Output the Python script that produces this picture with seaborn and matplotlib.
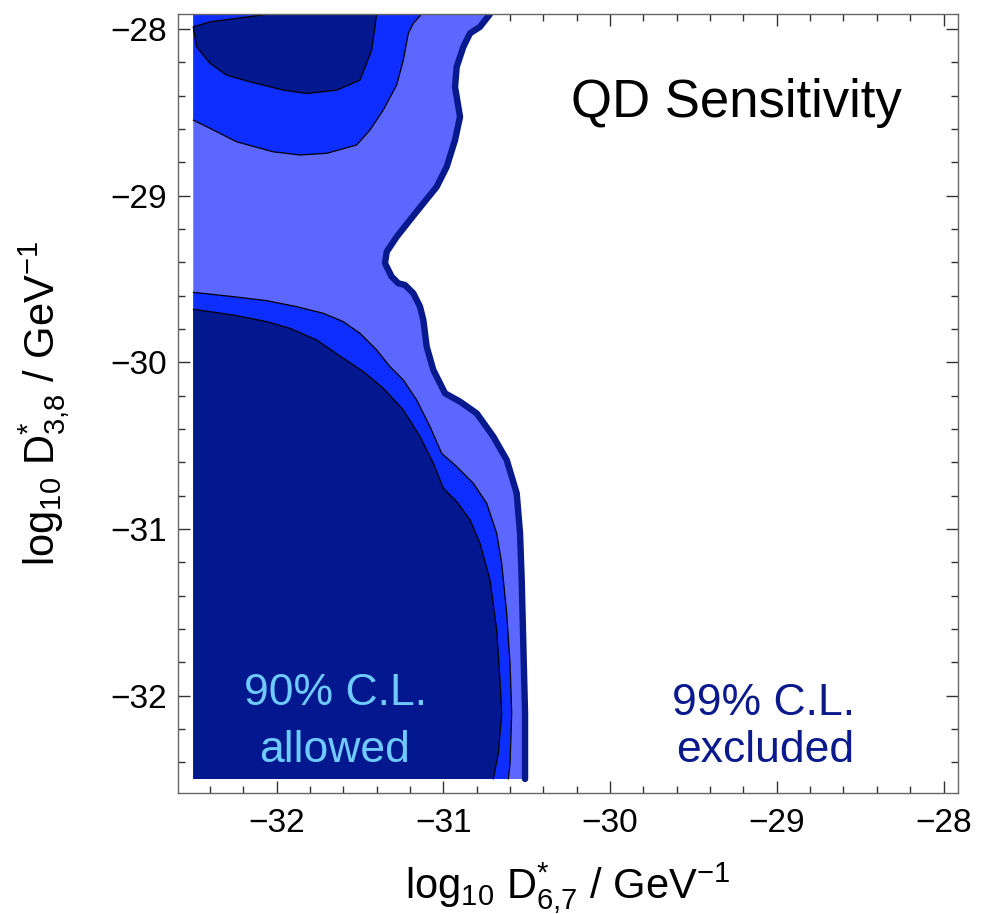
import matplotlib
matplotlib.use("Agg")
import matplotlib.pyplot as plt
from matplotlib.ticker import MultipleLocator
import seaborn as sns
import pandas as pd

# ---------------- data ----------------
X_MIN, Y_MIN, Y_TOP = -32.5, -32.5, -27.91

# outer 99% C.L. boundary (thick navy line), top -> bottom
b3_x = [-30.72, -30.78, -30.84, -30.88, -30.92, -30.93, -30.90, -30.93, -30.98, -31.04,
        -31.12, -31.20, -31.28, -31.34, -31.35, -31.31, -31.27, -31.23, -31.18, -31.14,
        -31.12, -31.10, -31.06, -30.99, -30.90, -30.80, -30.70, -30.62, -30.56, -30.54,
        -30.53, -30.52, -30.51, -30.51]
b3_y = [-27.91, -27.987, -28.026, -28.107, -28.227, -28.347, -28.527, -28.667, -28.827, -28.947,
        -29.046, -29.146, -29.247, -29.337, -29.406, -29.486, -29.526, -29.536, -29.586, -29.666,
        -29.746, -29.906, -30.046, -30.186, -30.236, -30.306, -30.446, -30.586, -30.786, -31.026,
        -31.306, -31.706, -32.106, -32.5]

# lower medium-blue contour, left edge -> bottom
b2_x = [-32.5, -32.26, -32.06, -31.88, -31.72, -31.60, -31.50, -31.40, -31.32, -31.24,
        -31.16, -31.08, -31.01, -30.92, -30.82, -30.74, -30.68, -30.65, -30.62, -30.60,
        -30.59, -30.60, -30.61]
b2_y = [-29.580, -29.606, -29.630, -29.666, -29.706, -29.756, -29.826, -29.926, -30.026, -30.106,
        -30.226, -30.386, -30.546, -30.626, -30.726, -30.846, -31.026, -31.206, -31.506, -31.806,
        -32.106, -32.406, -32.5]

# lower dark contour, left edge -> bottom
b1_x = [-32.5, -32.26, -32.06, -31.92, -31.76, -31.60, -31.48, -31.36, -31.24, -31.14,
        -31.06, -31.00, -30.92, -30.84, -30.78, -30.72, -30.68, -30.66, -30.65, -30.67, -30.70]
b1_y = [-29.682, -29.716, -29.756, -29.796, -29.866, -29.976, -30.056, -30.156, -30.286, -30.446,
        -30.606, -30.756, -30.836, -30.946, -31.086, -31.306, -31.606, -31.906, -32.106, -32.346, -32.5]

# upper medium-blue contour, left edge -> top edge
t2_x = [-32.5, -32.4, -32.24, -32.02, -31.86, -31.70, -31.52, -31.44, -31.36, -31.28,
        -31.24, -31.21, -31.18, -31.13]
t2_y = [-28.547, -28.596, -28.677, -28.737, -28.756, -28.746, -28.696, -28.606, -28.486, -28.336,
        -28.186, -28.026, -27.966, -27.91]

# upper dark blob contour, top edge -> around -> top edge
t1_x = [-32.04, -32.4, -32.5, -32.49, -32.48, -32.4, -32.30, -32.16, -31.96, -31.82,
        -31.64, -31.50, -31.43, -31.40]
t1_y = [-27.91, -27.957, -27.987, -28.05, -28.107, -28.206, -28.277, -28.317, -28.367, -28.387,
        -28.367, -28.307, -28.127, -27.91]

X_TICKS = [-32, -31, -30, -29, -28]
Y_TICKS = [-32, -31, -30, -29, -28]

C_DARK = "#03188F"
C_MID = "#0E2EFF"
C_LIGHT = "#5C67FF"
C_EDGE = "#061A8E"
C_TXT_LIGHT = "#6FCBFF"
C_TXT_DARK = "#0A1A8C"

# ---------------- style ----------------
sns.set_style("ticks")
plt.rcParams["font.family"] = ["Liberation Sans", "DejaVu Sans"]
plt.rcParams["mathtext.fontset"] = "custom"
plt.rcParams["mathtext.rm"] = "Liberation Sans"
plt.rcParams["mathtext.it"] = "Liberation Sans:italic"
plt.rcParams["mathtext.bf"] = "Liberation Sans:bold"
plt.rcParams["text.color"] = "black"
plt.rcParams["axes.labelcolor"] = "black"

fig = plt.figure(figsize=(10.06, 9.14), dpi=100)
ax = fig.add_axes([0.1772, 0.1324, 0.7751, 0.8523])

# ---------------- filled regions ----------------
ax.fill([X_MIN, X_MIN] + b3_x, [Y_MIN, Y_TOP] + b3_y, color=C_LIGHT, lw=0, zorder=1)
ax.fill(b2_x + [X_MIN], b2_y + [Y_MIN], color=C_MID, lw=0, zorder=2)
ax.fill(b1_x + [X_MIN], b1_y + [Y_MIN], color=C_DARK, lw=0, zorder=3)
ax.fill(t2_x + [X_MIN], t2_y + [Y_TOP], color=C_MID, lw=0, zorder=2)
ax.fill(t1_x, t1_y, color=C_DARK, lw=0, zorder=3)

# ---------------- contour lines ----------------
for xs, ys in [(b2_x, b2_y), (b1_x, b1_y), (t2_x, t2_y), (t1_x, t1_y)]:
    sns.lineplot(data=pd.DataFrame({"x": xs, "y": ys}), x="x", y="y", sort=False,
                 estimator=None, color="black", lw=0.9, ax=ax, zorder=4)
sns.lineplot(data=pd.DataFrame({"x": b3_x, "y": b3_y}), x="x", y="y", sort=False,
             estimator=None, color=C_EDGE, lw=4.6, ax=ax, zorder=5,
             solid_joinstyle="round")

# ---------------- annotations ----------------
ax.text(-29.243, -28.53, "QD Sensitivity", fontsize=38, ha="center", va="baseline", color="black")
ax.text(-31.645, -32.056, "90% C.L.", fontsize=32, ha="center", va="baseline", color=C_TXT_LIGHT, zorder=6)
ax.text(-31.65, -32.396, "allowed", fontsize=32, ha="center", va="baseline", color=C_TXT_LIGHT, zorder=6)
ax.text(-29.077, -32.116, "99% C.L.", fontsize=32, ha="center", va="baseline", color=C_TXT_DARK)
ax.text(-29.07, -32.396, "excluded", fontsize=32, ha="center", va="baseline", color=C_TXT_DARK)

# ---------------- axes ----------------
ax.set_xlim(-32.59, -27.913)
ax.set_ylim(-32.584, -27.91)
ax.set_xticks(X_TICKS)
ax.set_yticks(Y_TICKS)
ax.set_xticklabels([f"\u2212{abs(v)}" for v in X_TICKS])
ax.set_yticklabels([f"\u2212{abs(v)}" for v in Y_TICKS])
ax.xaxis.set_minor_locator(MultipleLocator(0.2))
ax.yaxis.set_minor_locator(MultipleLocator(0.2))
ax.tick_params(which="both", direction="in", top=True, right=True, color="#333333",
               width=1.0, labelsize=24, labelcolor="black", zorder=7)
ax.tick_params(which="major", length=8.5)
ax.tick_params(which="minor", length=5)
ax.tick_params(axis="x", pad=11)
ax.tick_params(axis="y", pad=8)
for s in ax.spines.values():
    s.set_color("#666666")
    s.set_linewidth(1.0)
    s.set_zorder(8)

ax.set_xlabel(r"log$_{10}$ D$^{*}_{6{,}7}$ / GeV$^{-1}$", fontsize=30, color="black")
ax.set_ylabel(r"log$_{10}$ D$^{*}_{3{,}8}$ / GeV$^{-1}$", fontsize=30, color="black")
ax.xaxis.set_label_coords(0.5, -0.086)
ax.yaxis.set_label_coords(-0.136, 0.5)

fig.savefig("out.png", dpi=100)
